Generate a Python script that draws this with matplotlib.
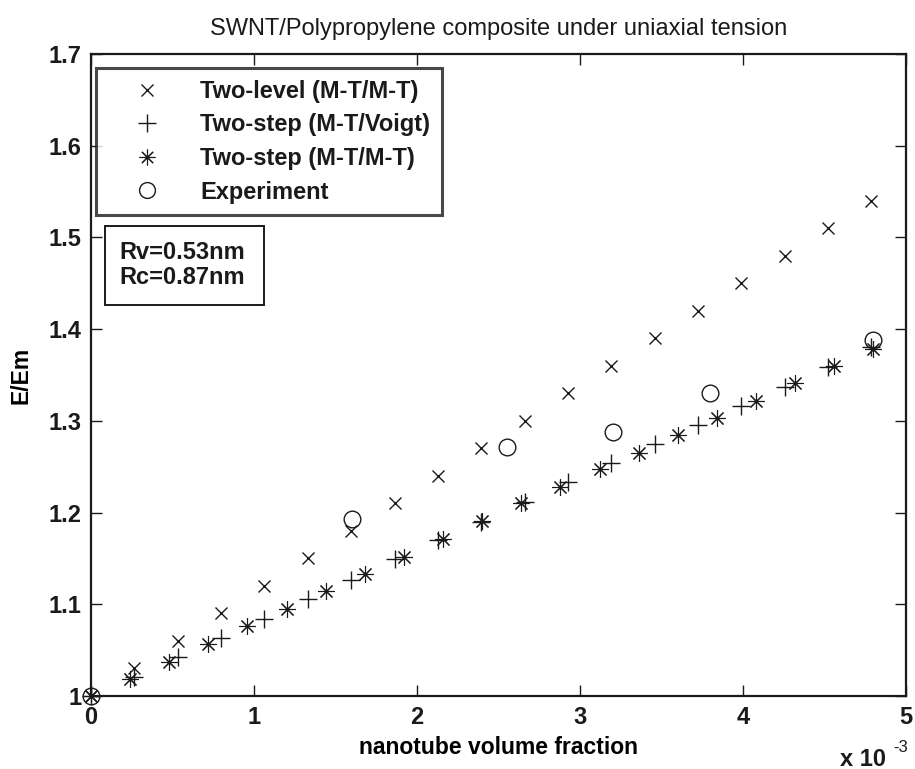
import numpy as np
import matplotlib.pyplot as plt
from matplotlib.patches import Rectangle

# nanotube volume fraction (units of 1e-3) and normalised modulus E/Em
vf_two_level = [0, 0.266, 0.532, 0.798, 1.064, 1.33, 1.596, 1.862, 2.128, 2.394,
                2.66, 2.926, 3.192, 3.458, 3.724, 3.99, 4.256, 4.522, 4.788]
E_two_level = [1.0, 1.03, 1.06, 1.09, 1.12, 1.15, 1.18, 1.21, 1.24, 1.27,
               1.30, 1.33, 1.36, 1.39, 1.42, 1.45, 1.48, 1.51, 1.54]

vf_voigt = [0, 0.266, 0.532, 0.798, 1.064, 1.33, 1.596, 1.862, 2.128, 2.394,
            2.66, 2.926, 3.192, 3.458, 3.724, 3.99, 4.256, 4.522, 4.788]
E_voigt = [1.0, 1.021, 1.043, 1.063, 1.084, 1.106, 1.127, 1.149, 1.170, 1.190,
           1.211, 1.233, 1.254, 1.275, 1.295, 1.316, 1.337, 1.359, 1.380]

vf_mtmt = [0, 0.24, 0.48, 0.72, 0.96, 1.2, 1.44, 1.68, 1.92, 2.16, 2.4,
           2.64, 2.88, 3.12, 3.36, 3.6, 3.84, 4.08, 4.32, 4.56, 4.8]
E_mtmt = [1.0, 1.019, 1.037, 1.057, 1.076, 1.095, 1.114, 1.133, 1.152, 1.171, 1.191,
          1.210, 1.228, 1.247, 1.265, 1.285, 1.303, 1.322, 1.341, 1.360, 1.378]

vf_exp = [0, 1.6, 2.55, 3.2, 3.8, 4.8]
E_exp = [1.0, 1.193, 1.271, 1.288, 1.330, 1.388]

plt.rcParams['font.family'] = ['Liberation Sans', 'DejaVu Sans']

W, H = 915, 769
fig = plt.figure(figsize=(W / 100, H / 100), dpi=100)
ax = fig.add_axes([91 / W, 1 - 696 / H, 815 / W, 642 / H])

k = '#1a1a1a'
ax.plot(vf_two_level, E_two_level, 'x', color=k, ms=9, mew=1.0, linestyle='none',
        clip_on=False, label='Two-level (M-T/M-T)')
ax.plot(vf_voigt, E_voigt, '+', color=k, ms=13, mew=1.0, linestyle='none',
        clip_on=False, label='Two-step (M-T/Voigt)')
ax.plot(vf_mtmt, E_mtmt, marker=(8, 2, 0), color=k, ms=12, mew=0.8, linestyle='none',
        clip_on=False, label='Two-step (M-T/M-T)')
ax.plot(vf_exp, E_exp, 'o', mfc='none', mec=k, ms=12, mew=1.0, linestyle='none',
        clip_on=False, label='Experiment')

ax.set_xlim(0, 5)
ax.set_ylim(1, 1.7)
ax.set_xticks([0, 1, 2, 3, 4, 5])
ax.set_yticks(np.round(np.arange(1.0, 1.71, 0.1), 1))
ax.set_xticklabels(['0', '1', '2', '3', '4', '5'])
ax.set_yticklabels(['1', '1.1', '1.2', '1.3', '1.4', '1.5', '1.6', '1.7'])
ax.tick_params(direction='in', length=8, width=1, top=True, right=True,
               labelsize=17, pad=7, colors=k)
for lab in ax.get_xticklabels() + ax.get_yticklabels():
    lab.set_fontweight('bold')
for sp in ax.spines.values():
    sp.set_linewidth(1.6)
    sp.set_color(k)

ax.set_xlabel('nanotube volume fraction', fontsize=16.5, fontweight='bold',
              va='center')
ax.xaxis.set_label_coords(0.5, (696 - 748) / 642)
ax.set_ylabel('E/Em', fontsize=16.5, fontweight='bold', va='center', ha='center')
ax.yaxis.set_label_coords((21 - 91) / 815, 0.5)
ax.set_title('SWNT/Polypropylene composite under uniaxial tension', fontsize=17,
             pad=14, color=k)

# axis multiplier, drawn as two pieces
fig.text(840 / W, 1 - 759 / H, 'x 10', fontsize=17, fontweight='bold',
         va='center', ha='left', color=k)
fig.text(893 / W, 1 - 748 / H, '-3', fontsize=12, va='center', ha='left', color=k)

leg = ax.legend(loc='upper left', bbox_to_anchor=(96 / W, 1 - 68 / H),
                bbox_transform=fig.transFigure,
                fontsize=17, frameon=True, fancybox=False, borderpad=0.5,
                handlelength=3.3, handletextpad=0.6, labelspacing=0.45,
                borderaxespad=0, markerscale=0.95)
leg.get_frame().set_edgecolor(k)
leg.get_frame().set_linewidth(2.2)
for t in leg.get_texts():
    t.set_fontweight('bold')
    t.set_color(k)

# parameter box
ax.add_patch(Rectangle((105 / W, 1 - 305 / H), 159 / W, 79 / H,
                       transform=fig.transFigure, fill=False, ec=k, lw=1.4,
                       clip_on=False))
fig.text(119 / W, 1 - 265 / H, 'Rv=0.53nm\nRc=0.87nm', fontsize=17,
         fontweight='bold', va='center', ha='left', linespacing=1.15, color=k)

fig.savefig('out.png', dpi=100)
